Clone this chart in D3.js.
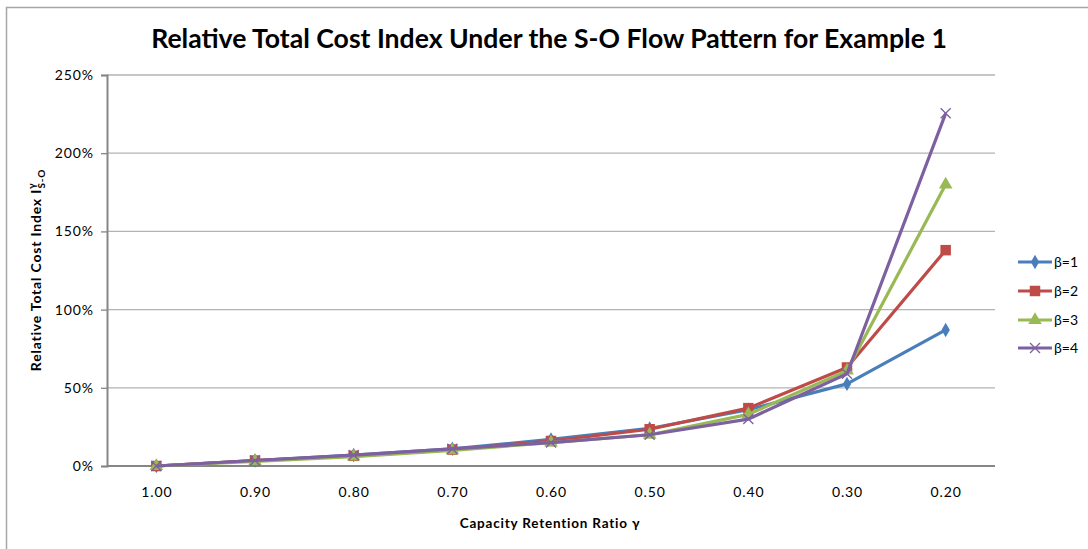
<!DOCTYPE html>
<html><head><meta charset="utf-8">
<script src="https://cdn.jsdelivr.net/npm/d3@7"></script>
<style>body{margin:0;background:#fff}svg{display:block}</style>
</head><body>
<script>
const categories = ["1.00","0.90","0.80","0.70","0.60","0.50","0.40","0.30","0.20"];
const beta1 = [0, 3.5, 7, 11, 17, 24, 36, 52.5, 87];
const beta2 = [0, 3.5, 6.5, 10.5, 16, 23.5, 37, 63, 138];
const beta3 = [0, 3, 6, 10, 15, 20, 33, 61, 180];
const beta4 = [0, 3.5, 7, 11, 15, 20, 30, 59, 225.5];
const seriesNames = ["β=1","β=2","β=3","β=4"];
const yTicks = [0, 50, 100, 150, 200, 250];
const colors = ["#4A7EBB","#BE4B48","#98B954","#7D60A0"];
const symbols = ["diamond","square","triangle","x"];
const series = [beta1,beta2,beta3,beta4];

const W=1088,H=549;
const svg=d3.select("body").append("svg").attr("width",W).attr("height",H);
const font="Lato, 'Open Sans', sans-serif";

svg.append("path").attr("d",`M6.5,${H+2} V7.5 H${W+2}`).attr("fill","none").attr("stroke","#a6a6a6").attr("stroke-width",1.5);

const L=107,R=995,T=75,B=466;
const x=d3.scalePoint().domain(categories).range([L,R]).padding(0.5);
const y=d3.scaleLinear().domain([0,250]).range([B,T]);

// gridlines
svg.append("g").selectAll("line").data(yTicks.filter(d=>d>0)).join("line")
 .attr("x1",L).attr("x2",R).attr("y1",d=>y(d)).attr("y2",d=>y(d))
 .attr("stroke","#b3b3b3").attr("stroke-width",1.3);

// y axis
const ya=svg.append("g").attr("transform",`translate(${L},0)`)
 .call(d3.axisLeft(y).tickValues(yTicks).tickFormat(d=>d+"%").tickSize(6).tickPadding(7));
ya.select(".domain").attr("stroke","#868686").attr("stroke-width",2);
ya.selectAll(".tick line").attr("stroke","#868686").attr("stroke-width",1.3);
ya.selectAll("text").attr("font-family",font).attr("font-size",14).attr("letter-spacing",0.9).attr("fill","#000");

// x axis
const xa=svg.append("g").attr("transform",`translate(0,${B})`)
 .call(d3.axisBottom(x).tickSize(0).tickPadding(21));
xa.select(".domain").attr("d",`M${L},0H${R}`).attr("stroke","#868686").attr("stroke-width",2);
xa.selectAll("text").attr("font-family",font).attr("font-size",14).attr("letter-spacing",0.9).attr("fill","#000");

// series
const line=d3.line().x((d,i)=>x(categories[i])).y(d=>y(d));
function marker(g,type,color,cx,cy,scale){
  if(type==="diamond"){
    g.append("path").attr("d",d3.symbol(d3.symbolDiamond,60*scale)()).attr("transform",`translate(${cx},${cy})`).attr("fill",color);
  } else if(type==="square"){
    g.append("path").attr("d",d3.symbol(d3.symbolSquare,110*scale)()).attr("transform",`translate(${cx},${cy})`).attr("fill",color);
  } else if(type==="triangle"){
    g.append("path").attr("d",d3.symbol(d3.symbolTriangle,80*scale)()).attr("transform",`translate(${cx},${cy})`).attr("fill",color);
  } else {
    const s=5*Math.sqrt(scale);
    g.append("path").attr("d",`M${cx-s},${cy-s}L${cx+s},${cy+s}M${cx-s},${cy+s}L${cx+s},${cy-s}`).attr("stroke",color).attr("stroke-width",1.3).attr("fill","none");
  }
}
series.forEach((vals,k)=>{
  const g=svg.append("g");
  g.append("path").datum(vals).attr("d",line).attr("fill","none").attr("stroke",colors[k]).attr("stroke-width",3.2).attr("stroke-linejoin","round");
  vals.forEach((v,i)=>marker(g,symbols[k],colors[k],x(categories[i]),y(v),1));
});

// legend
const legY=[262,291,320,348];
seriesNames.forEach((n,k)=>{
  const g=svg.append("g");
  g.append("line").attr("x1",1018).attr("x2",1052).attr("y1",legY[k]).attr("y2",legY[k]).attr("stroke",colors[k]).attr("stroke-width",3.2);
  marker(g,symbols[k],colors[k],1035,legY[k],1);
  g.append("text").attr("x",1054).attr("y",legY[k]+5).attr("font-family",font).attr("font-size",14).text(n);
});

// title
svg.append("text").attr("x",549).attr("y",48).attr("text-anchor","middle").attr("font-family",font).attr("font-weight","bold").attr("font-size",26.6).text("Relative Total Cost Index Under the S-O Flow Pattern for Example 1");

// x title
svg.append("text").attr("x",550).attr("y",528).attr("text-anchor","middle").attr("font-family",font).attr("font-weight","bold").attr("font-size",13.5).attr("letter-spacing",0.8).text("Capacity Retention Ratio γ");

// y title
const yt=svg.append("text").attr("transform","translate(41,270) rotate(-90)").attr("text-anchor","middle").attr("font-family",font).attr("font-weight","bold").attr("font-size",14).attr("letter-spacing",0.8);
yt.append("tspan").text("Relative Total Cost Index I");
yt.append("tspan").attr("dy",-6).attr("font-size",10).text("γ");
yt.append("tspan").attr("dy",10).attr("dx",-6).attr("font-size",10).text("S-O");
</script>
</body></html>
